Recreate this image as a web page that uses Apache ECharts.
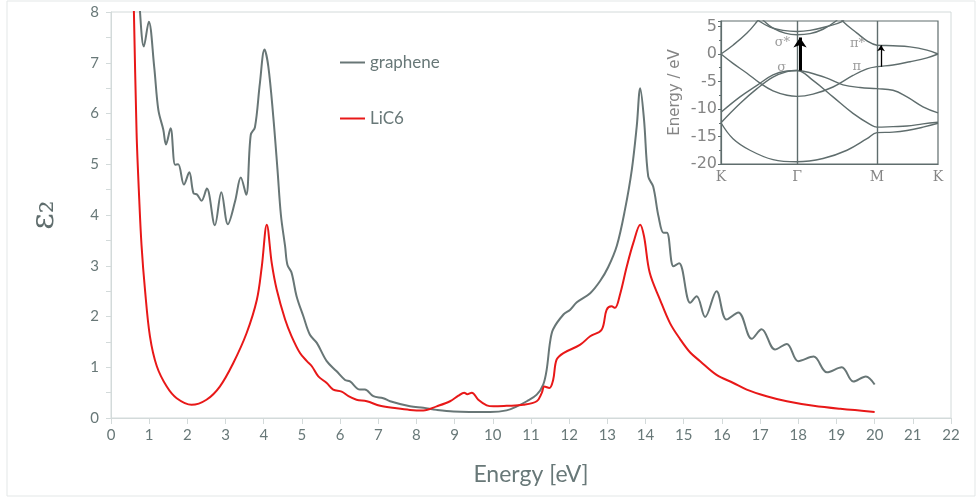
<!DOCTYPE html>
<html><head><meta charset="utf-8">
<script src="https://cdn.jsdelivr.net/npm/echarts@6/dist/echarts.min.js"></script>
<style>html,body{margin:0;padding:0;background:#fff}#c{width:979px;height:497px}</style>
</head><body><div id="c"></div>
<script>
// ---- main chart data: [energy eV, epsilon2] ----
const graphene = [[0.70,9.0],[0.76,8.0],[0.86,7.32],[0.99,7.81],[1.13,6.93],[1.24,6.07],[1.37,5.68],[1.44,5.39],[1.56,5.71],[1.68,4.99],[1.76,5.0],[1.91,4.60],[2.05,4.84],[2.16,4.43],[2.26,4.40],[2.37,4.28],[2.51,4.52],[2.72,3.80],[2.89,4.45],[3.06,3.82],[3.25,4.27],[3.40,4.74],[3.54,4.40],[3.66,5.58],[3.77,5.73],[3.90,6.60],[4.02,7.26],[4.12,6.93],[4.25,5.94],[4.36,4.9],[4.45,4.0],[4.56,3.38],[4.62,3.02],[4.73,2.86],[4.86,2.40],[5.04,2.00],[5.21,1.64],[5.39,1.48],[5.65,1.12],[5.91,0.92],[6.13,0.75],[6.26,0.72],[6.52,0.56],[6.65,0.56],[6.87,0.43],[7.13,0.39],[7.31,0.33],[7.83,0.23],[8.18,0.20],[8.53,0.16],[8.97,0.13],[9.93,0.12],[10.36,0.15],[10.63,0.23],[10.89,0.33],[11.15,0.46],[11.32,0.66],[11.41,0.95],[11.50,1.50],[11.58,1.75],[11.85,2.04],[12.02,2.13],[12.20,2.28],[12.55,2.46],[12.81,2.70],[13.02,2.97],[13.25,3.40],[13.46,4.10],[13.64,4.89],[13.77,5.75],[13.86,6.50],[13.96,5.88],[14.07,4.76],[14.20,4.56],[14.34,3.97],[14.47,3.65],[14.56,3.65],[14.73,2.99],[14.88,3.05],[15.17,2.27],[15.34,2.40],[15.56,1.99],[15.86,2.50],[16.12,1.94],[16.43,2.08],[16.78,1.56],[17.04,1.75],[17.39,1.35],[17.70,1.46],[18.0,1.12],[18.40,1.21],[18.75,0.90],[19.14,1.00],[19.44,0.72],[19.77,0.82],[20.0,0.66]];
const lic6 = [[0.55,9.5],[0.60,8.0],[0.67,5.62],[0.74,4.3],[0.80,3.4],[0.89,2.53],[1.02,1.61],[1.20,1.02],[1.46,0.62],[1.72,0.39],[2.11,0.26],[2.50,0.36],[2.85,0.62],[3.20,1.08],[3.55,1.67],[3.82,2.33],[3.95,2.99],[4.08,3.81],[4.21,3.05],[4.34,2.53],[4.56,1.94],[4.73,1.61],[4.95,1.28],[5.13,1.12],[5.26,1.02],[5.43,0.82],[5.65,0.69],[5.82,0.56],[6.04,0.52],[6.22,0.43],[6.43,0.36],[6.70,0.33],[7.05,0.24],[7.48,0.19],[7.83,0.16],[8.18,0.15],[8.53,0.23],[8.88,0.33],[9.10,0.44],[9.25,0.50],[9.33,0.47],[9.45,0.50],[9.62,0.36],[9.84,0.25],[10.02,0.23],[10.36,0.24],[10.80,0.26],[11.15,0.33],[11.28,0.49],[11.35,0.62],[11.48,0.59],[11.58,0.75],[11.67,1.15],[11.85,1.28],[12.28,1.44],[12.55,1.61],[12.85,1.74],[12.98,2.13],[13.11,2.20],[13.20,2.17],[13.33,2.43],[13.51,2.99],[13.68,3.45],[13.86,3.81],[13.96,3.58],[14.11,2.86],[14.38,2.33],[14.64,1.87],[14.90,1.56],[15.17,1.29],[15.43,1.12],[15.86,0.85],[16.30,0.69],[16.65,0.56],[17.17,0.43],[17.70,0.33],[18.40,0.24],[19.10,0.18],[20.0,0.12]];
const seriesNames = ['graphene','LiC6'];

// ---- inset band structure: [k-path position, energy eV] ----
const kLabels = ['K','Γ','M','K'];
const kPos = [0,76,156,217];
const piV = [[0,0],[12,-1.7],[26,-3.5],[39,-5.3],[52,-6.7],[66,-7.5],[76,-7.7],[92,-7.3],[112,-6.0],[132,-3.9],[146,-2.7],[156,-2.3],[172,-2.0],[189,-1.4],[206,-0.7],[217,0]];
const piC1 = [[0,0],[12,1.6],[26,3.8],[36,5.9],[42,7.4]];
const piC2 = [[116,7.4],[122,5.9],[136,3.8],[146,2.4],[156,1.6],[172,1.5],[189,1.3],[206,0.7],[217,0]];
const sigStar1 = [[35,6.6],[39,5.9],[49,4.9],[62,4.3],[76,4.1],[89,4.3],[106,5.0],[121,5.9],[124,6.6]];
const sigStar2 = [[40,6.6],[43,6.0],[52,4.7],[64,3.8],[76,3.5],[89,3.7],[102,4.5],[115,6.0],[117,6.6]];
const sigD = [[0,-10.6],[19,-7.8],[36,-5.7],[52,-3.8],[66,-3.1],[76,-3.0],[89,-3.4],[106,-4.4],[122,-5.6],[139,-6.1],[156,-6.3],[172,-6.6],[186,-7.8],[202,-9.6],[217,-10.7]];
const sigE = [[0,-12.5],[19,-9.0],[36,-6.3],[52,-4.2],[66,-3.2],[76,-3.0],[92,-4.8],[112,-7.8],[132,-10.8],[149,-12.8],[156,-13.3],[172,-13.2],[186,-13.1],[202,-12.7],[217,-12.4]];
const sigF = [[0,-12.5],[12,-15.4],[29,-17.5],[52,-19.2],[76,-19.6],[102,-19.0],[126,-17.5],[146,-15.4],[156,-14.3],[172,-14.2],[186,-13.9],[202,-13.3],[217,-12.6]];
const arrowGamma = [[79,-3.0],[79,3.0]];
const arrowM = [[160,-2.3],[160,1.6]];
const greekNames = ['σ*','σ','π*','π'];
const greekPos = [[69,2.0],[65,-2.4],[144,1.8],[140,-2.3]];

const txt = '#687878', axisC = '#d3dada', gl = '#687676', red = '#e81818', bandC = '#5f6d6d', insetTxt = '#858585';

const chart = echarts.init(document.getElementById('c'), null, {renderer:'canvas'});
const bands = [piV, piC1, piC2, sigStar1, sigStar2, sigD, sigE, sigF];
const bandSeries = bands.map((b,i) => ({
  type:'line', xAxisIndex:1, yAxisIndex:1, data:b, symbol:'none', smooth:0.4,
  lineStyle:{color:bandC, width:1.4}, silent:true, z:3,
  markLine: i===0 ? {symbol:'none', silent:true, label:{show:false}, lineStyle:{color:bandC, width:1.4, type:'solid'},
    data:[{xAxis:kPos[1]},{xAxis:kPos[2]}]} : undefined
}));

chart.setOption({
  animation:false,
  backgroundColor:'#fff',
  graphic:[{type:'rect', shape:{x:7,y:1,width:968,height:495}, style:{fill:'none', stroke:'#e3e7e7', lineWidth:1}, z:-10}],
  legend:{data:seriesNames, orient:'vertical', left:335, top:49, itemWidth:25, itemHeight:2, itemGap:39, icon:'rect',
    textStyle:{fontFamily:'Lato', fontSize:17, color:txt}},
  grid:[
    {left:111, right:28, top:12, bottom:79, show:true, borderColor:axisC, borderWidth:1},
    {left:721, right:41, top:21, bottom:333, show:true, borderColor:bandC, borderWidth:1.2}
  ],
  xAxis:[
    {type:'value', gridIndex:0, min:0, max:22, interval:1,
      name:'Energy [eV]', nameLocation:'middle', nameGap:45,
      nameTextStyle:{fontFamily:'Lato', fontSize:23, color:txt},
      axisLine:{lineStyle:{color:axisC}}, axisTick:{show:true, length:6, lineStyle:{color:axisC}},
      axisLabel:{fontFamily:'Lato', fontSize:15, color:txt, margin:10}, splitLine:{show:false}},
    {type:'value', gridIndex:1, min:0, max:217,
      axisLine:{onZero:false, lineStyle:{color:bandC, width:1.2}}, axisTick:{show:false},
      axisLabel:{customValues:kPos, formatter:(v)=>kLabels[kPos.indexOf(v)] || '', fontFamily:'DejaVu Serif', fontSize:14, color:insetTxt, margin:6},
      splitLine:{show:false}}
  ],
  yAxis:[
    {type:'value', gridIndex:0, min:0, max:8, interval:1,
      name:'ε₂', nameLocation:'middle', nameGap:50, nameRotate:90,
      nameTextStyle:{fontFamily:'DejaVu Serif', fontSize:32, color:'#5f6d6d'},
      axisLine:{show:true, lineStyle:{color:axisC}}, axisTick:{show:true, length:5, lineStyle:{color:axisC}},
      minorTick:{show:true, splitNumber:2, length:5, lineStyle:{color:axisC}},
      axisLabel:{fontFamily:'Lato', fontSize:15, color:txt, margin:12}, splitLine:{show:false}},
    {type:'value', gridIndex:1, min:-20, max:6, interval:5,
      name:'Energy / eV', nameLocation:'middle', nameGap:38, nameRotate:90,
      nameTextStyle:{fontFamily:'DejaVu Sans', fontSize:15, color:insetTxt},
      axisLine:{show:true, onZero:false, lineStyle:{color:bandC, width:1.2}}, axisTick:{show:true, length:3, lineStyle:{color:bandC}},
      minorTick:{show:true, splitNumber:2, length:2, lineStyle:{color:bandC}},
      axisLabel:{fontFamily:'DejaVu Sans', fontSize:16, color:insetTxt, margin:4, showMaxLabel:false}, splitLine:{show:false}}
  ],
  series:[
    {name:seriesNames[0], type:'line', data:graphene, symbol:'none', smooth:0.35, color:gl, lineStyle:{color:gl, width:2}, z:5},
    {name:seriesNames[1], type:'line', data:lic6, symbol:'none', smooth:0.35, color:red, lineStyle:{color:red, width:2}, z:6},
    ...bandSeries,
    {type:'lines', coordinateSystem:'cartesian2d', xAxisIndex:1, yAxisIndex:1, silent:true, z:8,
      symbol:['none','arrow'], symbolSize:10, lineStyle:{color:'#000', width:3, opacity:1}, data:[{coords:arrowGamma}]},
    {type:'lines', coordinateSystem:'cartesian2d', xAxisIndex:1, yAxisIndex:1, silent:true, z:8,
      symbol:['none','arrow'], symbolSize:6, lineStyle:{color:'#000', width:1.3, opacity:1}, data:[{coords:arrowM}]},
    {type:'scatter', xAxisIndex:1, yAxisIndex:1, silent:true, symbolSize:0, z:9,
      data:greekNames.map((n,i)=>({name:n, value:greekPos[i]})),
      label:{show:true, position:'left', distance:0, formatter:(p)=>p.name, fontFamily:'DejaVu Serif', fontSize:13, color:insetTxt}}
  ]
});
</script></body></html>
